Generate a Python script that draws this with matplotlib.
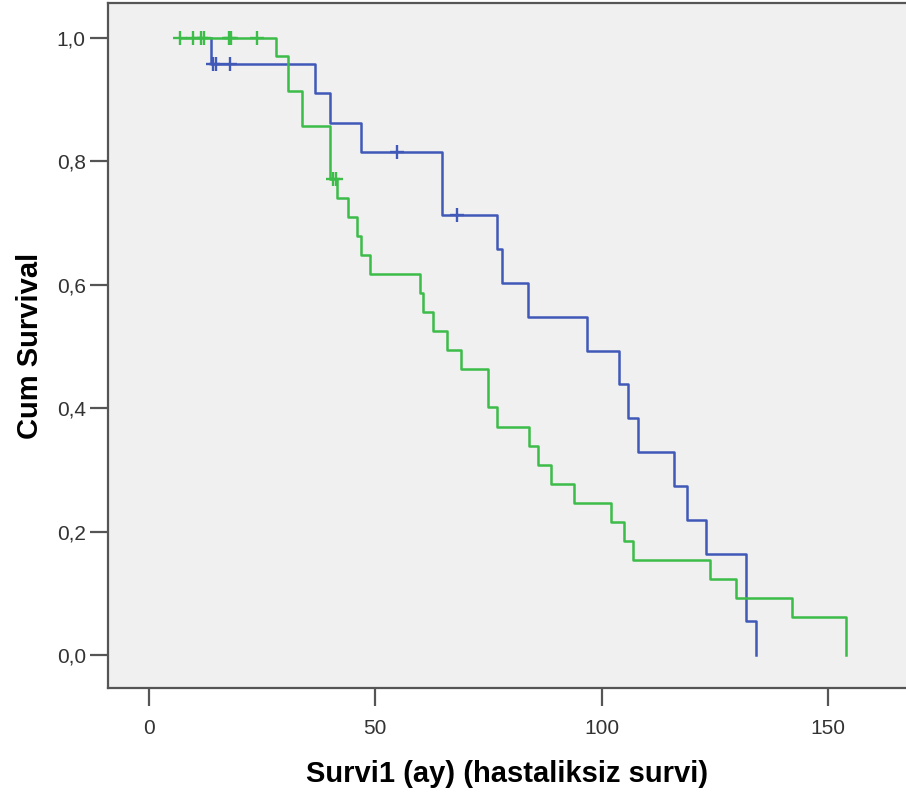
import matplotlib
matplotlib.use("Agg")
import matplotlib.pyplot as plt
import numpy as np

# survival times (months) and status (1 = event, 0 = censored)
blue_time = [13.8, 14.2, 15.0, 18.0, 36.8, 40.1, 46.9, 54.8, 64.9, 64.9, 68.0,
             76.9, 78.1, 83.8, 96.9, 103.9, 105.8, 108.0, 115.9, 118.9, 123.0,
             132.0, 132.0, 134.0]
blue_event = [1, 0, 0, 0, 1, 1, 1, 0, 1, 1, 0,
              1, 1, 1, 1, 1, 1, 1, 1, 1, 1,
              1, 1, 1]

green_time = [7.0, 9.9, 11.6, 12.2, 17.8, 18.2, 23.9,
              28.1, 30.9, 30.9, 33.8, 33.8, 40.1, 40.1, 40.1,
              40.8, 41.4,
              41.7, 44.1, 46.1, 46.9, 48.9, 59.9, 60.7, 62.9, 65.8, 69.0,
              75.0, 75.0, 76.9, 84.0, 86.0, 88.8, 93.9, 102.0, 105.0, 107.0,
              124.0, 129.8, 142.0, 154.0, 154.0]
green_event = [0, 0, 0, 0, 0, 0, 0,
               1, 1, 1, 1, 1, 1, 1, 1,
               0, 0,
               1, 1, 1, 1, 1, 1, 1, 1, 1, 1,
               1, 1, 1, 1, 1, 1, 1, 1, 1, 1,
               1, 1, 1, 1, 1]

y_ticks = [0.0, 0.2, 0.4, 0.6, 0.8, 1.0]
x_ticks = [0, 50, 100, 150]


def kaplan_meier(times, events):
    times = np.array(times)
    events = np.array(events)
    n = len(times)
    s = 1.0
    xs, ys = [times.min()], [1.0]
    cx, cy = [], []
    for t in np.unique(times):
        d = int(((times == t) & (events == 1)).sum())
        c = int(((times == t) & (events == 0)).sum())
        if d > 0:
            s *= 1 - d / n
            xs.append(t)
            ys.append(s)
        if c > 0:
            cx += [t] * c
            cy += [s] * c
        n -= d + c
    return xs, ys, cx, cy


fig = plt.figure(figsize=(9.06, 7.96), dpi=100)
ax = fig.add_axes([108 / 906, 1 - 688 / 796, 1 - 108 / 906, (688 - 3) / 796])
ax.set_facecolor("#f0f0f0")

for times, events, color in [(blue_time, blue_event, "#4058b8"),
                             (green_time, green_event, "#3cbc48")]:
    xs, ys, cx, cy = kaplan_meier(times, events)
    ax.plot(xs, ys, drawstyle="steps-post", color=color, lw=1.8)
    ax.plot(cx, cy, linestyle="none", marker="+", markersize=9.5,
            markeredgewidth=1.7, color=color)

ax.set_xlim((108 - 148.5) / 4.53, (906 - 148.5) / 4.53)
ax.set_ylim((655 - 688) / 617, (655 - 3) / 617)

ax.set_xticks(x_ticks)
ax.set_xticklabels([str(v) for v in x_ticks])
ax.set_yticks(y_ticks)
ax.set_yticklabels([f"{v:.1f}".replace(".", ",") for v in y_ticks])

for side in ["left", "bottom", "top"]:
    ax.spines[side].set_color("#555555")
    ax.spines[side].set_linewidth(1.6)
ax.spines["right"].set_visible(False)

ax.tick_params(axis="both", length=13, width=1.6, color="#555555",
               labelsize=15, labelcolor="#333333")
ax.tick_params(axis="x", pad=9)
ax.tick_params(axis="y", pad=3)
for lab in ax.get_xticklabels() + ax.get_yticklabels():
    lab.set_family("Liberation Sans")

ax.set_xlabel("Survi1 (ay) (hastaliksiz survi)", fontsize=21, fontweight="bold",
              family="Liberation Sans", labelpad=16)
ax.set_ylabel("Cum Survival", fontsize=21, fontweight="bold",
              family="Liberation Sans", labelpad=9)

fig.savefig("out.png", dpi=100)
